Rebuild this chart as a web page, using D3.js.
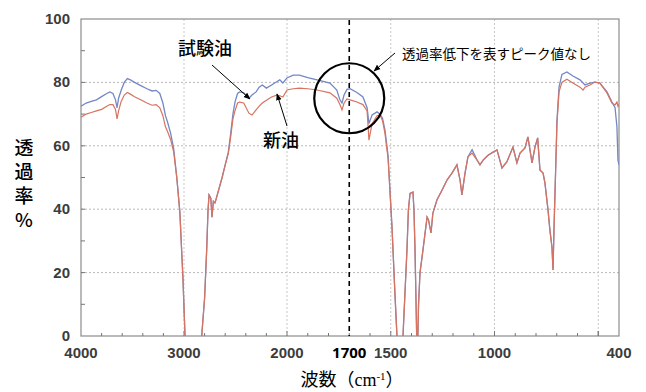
<!DOCTYPE html>
<html>
<head>
<meta charset="utf-8">
<script src="https://cdn.jsdelivr.net/npm/d3@7"></script>
<style>
  body { margin: 0; background: #fff; }
  svg { display: block; }
</style>
</head>
<body>
<div id="chart"></div>
<script>
// wavenumber (cm-1) and transmittance (%)
const wavenumbers = [4000,3950,3900,3850,3800,3750,3720,3690,3665,3650,3635,3610,3580,3550,3520,3480,3420,3360,3310,3270,3235,3205,3180,3160,3130,3100,3070,3040,3010,2990,2960,2860,2828,2800,2780,2767,2757,2740,2728,2715,2700,2690,2660,2630,2600,2570,2550,2525,2505,2480,2460,2420,2370,2340,2300,2270,2240,2200,2150,2100,2070,2040,2000,1970,1940,1900,1855,1793,1760,1745,1735,1725,1711,1696,1663,1634,1614,1605,1590,1566,1552,1540,1528,1513,1494,1480,1470,1462,1449,1441,1422,1415,1407,1393,1388,1383,1375,1371,1366,1359,1345,1325,1318,1306,1297,1277,1253,1229,1205,1181,1166,1157,1142,1128,1108,1084,1070,1055,1031,1007,988,964,940,911,892,877,853,839,819,805,792,781,766,757,742,733,723,718,713,704,699,689,675,651,622,588,573,564,540,516,492,458,434,419,410,405,400];
const testOil = [72.5,73.5,74,74.5,75.5,76.5,77,76.5,74.5,72,75,77.5,80,81.2,80.8,80,79,78,77.3,77.5,76.5,73.5,69.5,67.5,64,59,50,39,18,0,-30,-30,0,12,27,39.5,44.5,43.5,37.5,42.5,42,43,46.5,50,54,58,63,70,73.8,76.5,77,76.7,75,76,77,78.5,79.2,78.2,79.2,80.2,80.8,79.8,81.4,82.3,82.3,81.5,80.8,79.8,77.6,74.5,73.5,76,77.8,78,76.8,75.4,72,67,69.7,70.7,70,68.8,65,57,34.4,13.6,0,-30,-30,0,27,39.7,45,45.4,39.7,27,0,-5,10,20,27,37.5,36.6,32.5,38.8,43,46,49.2,51.4,54,49.2,44.5,51.4,56.5,58.8,55.5,54,55.5,57,58,58.7,53,55,59.6,54.6,57.7,59.3,62.8,54.6,59.6,62.5,52.4,51.4,48.3,39.7,33.4,28,20.8,34.4,55.5,68,78.5,82.5,83.3,82,80.8,79.8,79.2,79.8,80.1,79.8,77,73.8,72,66,55.5,54];
const newOil = [69,70,70.5,71,71.5,72.5,73,73,71.5,68.5,71,74,76,76.8,76.3,75.5,74.5,73.5,72.8,73,72,69.5,66,64.5,62,58,50,39,18,0,-30,-30,0,12,27,39.5,44.5,43.5,37.5,42.5,42,43,46.5,50,54,57.5,62,68.5,71,73.5,73.8,73.5,70.3,69.7,71.3,72.5,73.5,74.4,75.4,76,75.8,75.4,77.6,78,78.2,78,77.6,76.7,75,73,71.3,73.5,74.8,74.5,73.8,73,71,61.8,67,69.5,69.7,68,64,56,34.4,13.6,0,-30,-30,0,27,39.7,45,45.4,39.7,27,0,-5,10,20,27,37.5,36.6,32.5,38.8,43,46,49.2,51.4,54,49.2,44.5,51.4,56.5,57.7,55.5,54,55.5,57,58,58.7,53,55,59.6,54.6,57.7,59.3,62.8,54.6,59.6,62.5,52.4,51.4,48.3,39.7,33.4,28,20.8,34.4,55.5,67,77,80,81,79.8,78.5,77.6,78.5,79.2,80.1,79.8,76.7,73.5,72.9,73.8,72.5,73];

const xTickLabels = [4000, 3000, 2000, 1500, 1000, 400];
const xMinorTicks = [3800,3600,3400,3200,2800,2600,2400,2200,1900,1800,1700,1600,1400,1300,1200,1100,900,800,700,600,500];
const xGrid = [3000, 2000, 1500, 1000, 500];
const yTickLabels = [0, 20, 40, 60, 80, 100];
const yMinorTicks = [10, 30, 50, 70, 90];
const markWave = 1700;

const margin = {top: 19, right: 27, bottom: 56, left: 81};
const width = 646, height = 392;
const w = width - margin.left - margin.right;
const h = height - margin.top - margin.bottom;

const svg = d3.select('#chart').append('svg')
  .attr('width', width)
  .attr('height', height);

// IR chart: scale doubles below 2000 cm-1
const x = d3.scaleLinear().domain([4000, 2000, 400]).range([0, 206, w]);
const y = d3.scaleLinear().domain([0, 100]).range([h, 0]);

const g = svg.append('g')
  .attr('transform', 'translate(' + margin.left + ',' + margin.top + ')');

svg.append('defs').append('clipPath').attr('id', 'plot')
  .append('rect').attr('width', w).attr('height', h);

// dotted grid
g.selectAll('.gy').data([20, 40, 60, 80]).enter().append('line')
  .attr('x1', 0).attr('x2', w)
  .attr('y1', d => y(d)).attr('y2', d => y(d))
  .attr('stroke', '#b8b8b8').attr('stroke-dasharray', '2,2');
g.selectAll('.gx').data(xGrid).enter().append('line')
  .attr('x1', d => x(d)).attr('x2', d => x(d))
  .attr('y1', 0).attr('y2', h)
  .attr('stroke', '#c8c8c8').attr('stroke-dasharray', '2,2');

// frame
g.append('rect').attr('width', w).attr('height', h)
  .attr('fill', 'none').attr('stroke', '#8c8c8c').attr('stroke-width', 1.2);

// ticks (inside)
g.selectAll('.tx').data(xMinorTicks.concat(xGrid)).enter().append('line')
  .attr('x1', d => x(d)).attr('x2', d => x(d))
  .attr('y1', h).attr('y2', d => h - (xGrid.includes(d) ? 5 : 3))
  .attr('stroke', '#777');
g.selectAll('.ty').data(yMinorTicks.concat([20, 40, 60, 80])).enter().append('line')
  .attr('x1', 0).attr('x2', 4)
  .attr('y1', d => y(d)).attr('y2', d => y(d))
  .attr('stroke', '#777');

// tick labels
g.selectAll('.ly').data(yTickLabels).enter().append('text')
  .attr('x', -11).attr('y', d => y(d) + 5)
  .attr('text-anchor', 'end')
  .style('font', 'bold 15px "Liberation Sans", Arial, sans-serif')
  .attr('fill', '#3c3c3c')
  .text(d => d);
g.selectAll('.lx').data(xTickLabels).enter().append('text')
  .attr('x', d => x(d)).attr('y', h + 22)
  .attr('text-anchor', 'middle')
  .style('font', 'bold 15px "Liberation Sans", Arial, sans-serif')
  .attr('fill', '#3c3c3c')
  .text(d => d);
g.append('text')
  .attr('x', x(markWave)).attr('y', h + 22)
  .attr('text-anchor', 'middle')
  .style('font', 'bold 15px "Noto Sans", sans-serif')
  .attr('fill', '#000')
  .text(markWave);

// spectra
const line = d3.line()
  .x((d, i) => x(wavenumbers[i]))
  .y(d => y(d));
const plot = g.append('g').attr('clip-path', 'url(#plot)');
plot.append('path').datum(testOil)
  .attr('d', line).attr('fill', 'none')
  .attr('stroke', '#7487c6').attr('stroke-width', 1.3);
plot.append('path').datum(newOil)
  .attr('d', line).attr('fill', 'none')
  .attr('stroke', '#d7735f').attr('stroke-width', 1.2);

// 1700 marker line
g.append('line')
  .attr('x1', x(markWave)).attr('x2', x(markWave))
  .attr('y1', 1).attr('y2', h)
  .attr('stroke', '#000').attr('stroke-width', 1.6)
  .attr('stroke-dasharray', '5,4');

// circle around 1700 region
g.append('circle')
  .attr('cx', x(markWave)).attr('cy', y(75))
  .attr('r', 35)
  .attr('fill', 'none').attr('stroke', '#000').attr('stroke-width', 2.2);

// arrows
const defs = svg.select('defs');
defs.append('marker').attr('id', 'arr')
  .attr('viewBox', '0 0 10 10').attr('refX', 9).attr('refY', 5)
  .attr('markerWidth', 7).attr('markerHeight', 7).attr('orient', 'auto')
  .append('path').attr('d', 'M0,1 L10,5 L0,9 Z').attr('fill', '#000');

const arrows = [
  [212, 65, 250, 99],
  [287, 126, 277, 94],
  [395, 53, 374, 71]
];
svg.selectAll('.arrow').data(arrows).enter().append('line')
  .attr('x1', d => d[0]).attr('y1', d => d[1])
  .attr('x2', d => d[2]).attr('y2', d => d[3])
  .attr('stroke', '#000').attr('stroke-width', 1)
  .attr('marker-end', 'url(#arr)');

const jp = '"Noto Sans CJK JP", sans-serif';
svg.append('text').attr('x', 205).attr('y', 55)
  .attr('text-anchor', 'middle')
  .style('font', '500 18px ' + jp).text('試験油');
svg.append('text').attr('x', 281).attr('y', 147)
  .attr('text-anchor', 'middle')
  .style('font', '500 18px ' + jp).text('新油');
svg.append('text').attr('x', 402).attr('y', 59)
  .style('font', '400 13.5px ' + jp).text('透過率低下を表すピーク値なし');

// y title, written vertically
svg.append('text')
  .attr('x', 24).attr('y', 138)
  .style('font', '500 19px ' + jp)
  .style('writing-mode', 'vertical-rl')
  .style('text-orientation', 'upright')
  .style('letter-spacing', '5px')
  .text('透過率%');

// x title
const xt = svg.append('text').attr('x', 352).attr('y', 386)
  .attr('text-anchor', 'middle')
  .style('font', '400 18px ' + jp);
xt.append('tspan').text('波数（');
xt.append('tspan').style('font-family', '"Liberation Serif", serif').text('cm');
xt.append('tspan').attr('dy', -6).style('font-size', '11px')
  .style('font-family', '"Liberation Serif", serif').text('-1');
xt.append('tspan').attr('dy', 6).text('）');
</script>
</body>
</html>
